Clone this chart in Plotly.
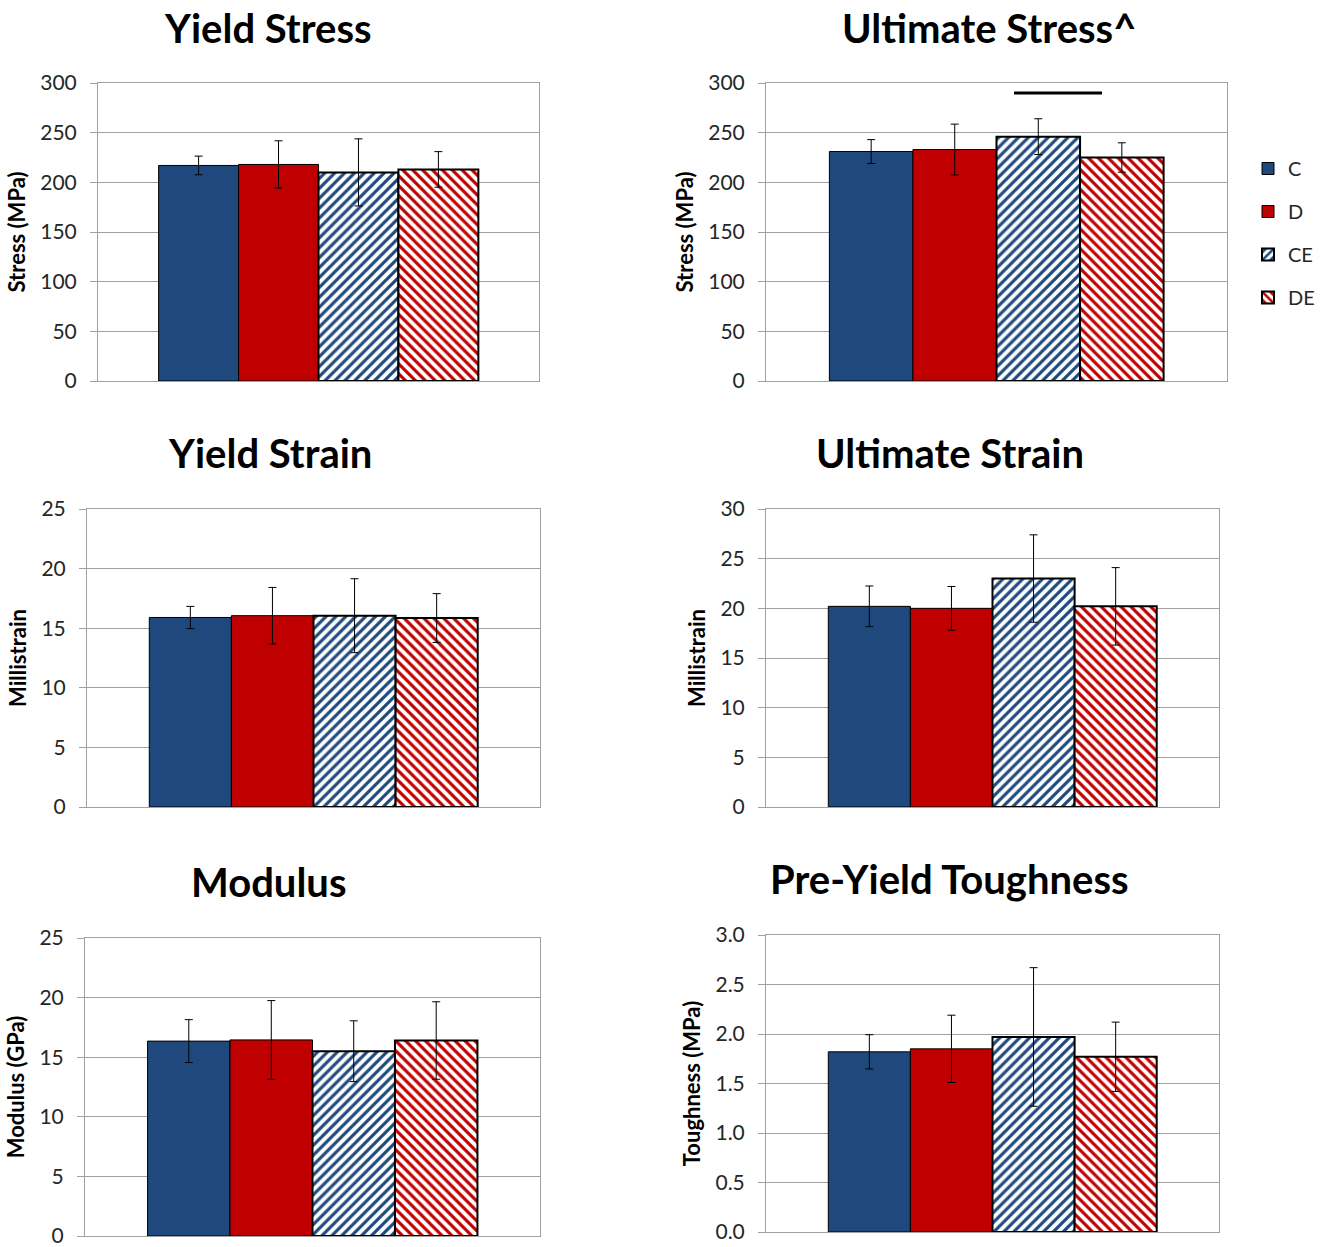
import plotly.graph_objects as go

# ---------------- data ----------------
groups = ["C", "D", "CE", "DE"]

titles = ["Yield Stress", "Ultimate Stress^", "Yield Strain",
          "Ultimate Strain", "Modulus", "Pre-Yield Toughness"]
y_titles = ["Stress (MPa)", "Stress (MPa)", "Millistrain",
            "Millistrain", "Modulus (GPa)", "Toughness (MPa)"]

yield_stress_mean = [217, 218, 210, 213]
yield_stress_sd = [9.4, 23.8, 33.8, 17.9]

ult_stress_mean = [231, 233, 246, 225]
ult_stress_sd = [12.0, 25.6, 18.0, 14.8]

yield_strain_mean = [15.9, 16.05, 16.05, 15.85]
yield_strain_sd = [0.93, 2.37, 3.1, 2.05]

ult_strain_mean = [20.2, 20.0, 23.0, 20.2]
ult_strain_sd = [2.05, 2.2, 4.4, 3.9]

modulus_mean = [16.35, 16.45, 15.5, 16.4]
modulus_sd = [1.8, 3.3, 2.55, 3.25]

tough_mean = [1.82, 1.85, 1.97, 1.77]
tough_sd = [0.173, 0.34, 0.70, 0.35]

means = [yield_stress_mean, ult_stress_mean, yield_strain_mean,
         ult_strain_mean, modulus_mean, tough_mean]
sds = [yield_stress_sd, ult_stress_sd, yield_strain_sd,
       ult_strain_sd, modulus_sd, tough_sd]

y_max = [300, 300, 25, 30, 25, 3.0]
y_dtick = [50, 50, 5, 5, 5, 0.5]
y_fmt = ["d", "d", "d", "d", "d", ".1f"]

sig_value = 290  # significance bar height on Ultimate Stress

# ---------------- style ----------------
NAVY = "#1F497D"
RED = "#C00000"
GRID = "#A0A0A0"
FONT = "Lato"

styles = {
    "C": dict(color=NAVY, pattern=None, lw=1),
    "D": dict(color=RED, pattern=None, lw=1),
    "CE": dict(color="white", pattern=dict(shape="/", fgcolor=NAVY, bgcolor="white",
                                           fgopacity=1, size=7, solidity=0.45,
                                           fillmode="replace"), lw=2),
    "DE": dict(color="white", pattern=dict(shape="\\", fgcolor=RED, bgcolor="white",
                                           fgopacity=1, size=7, solidity=0.45,
                                           fillmode="replace"), lw=2),
}

W, H = 1323, 1247
# plot-area pixel boxes: (left, right, top, bottom)
boxes = [(98, 539, 83, 381), (766, 1227, 83, 381),
         (87, 540, 509, 807), (766, 1219, 509, 807),
         (85, 540, 938, 1236), (766, 1219, 935, 1232)]
title_pos = [(268, 28), (989, 28), (270, 453), (950, 453), (269, 882), (949, 879)]

fig = go.Figure()

for i in range(6):
    ax = "" if i == 0 else str(i + 1)
    for j, g in enumerate(groups):
        st = styles[g]
        marker = dict(color=st["color"], line=dict(color="black", width=st["lw"]))
        if st["pattern"]:
            marker["pattern"] = st["pattern"]
        fig.add_trace(go.Bar(
            x=["grp"], y=[means[i][j]], name=g,
            marker=marker,
            error_y=dict(type="data", array=[sds[i][j]], color="black",
                         thickness=1, width=4, visible=True),
            xaxis="x" + ax, yaxis="y" + ax,
            showlegend=(i == 1), legendgroup=g, offsetgroup=g,
        ))

    l, r, t, b = boxes[i]
    fig.layout["xaxis" + ax] = dict(
        domain=[l / W, r / W], anchor="y" + ax, type="category", automargin=False,
        range=[-0.5, 0.5], showticklabels=False, ticks="", showgrid=False,
        showline=True, mirror=True, linecolor=GRID, linewidth=1, fixedrange=True,
    )
    fig.layout["yaxis" + ax] = dict(
        domain=[1 - b / H, 1 - t / H], anchor="x" + ax, automargin=False,
        range=[0, y_max[i]], dtick=y_dtick[i], tickformat=y_fmt[i],
        showgrid=True, gridcolor=GRID, gridwidth=1, zeroline=False,
        showline=True, mirror=True, linecolor=GRID, linewidth=1,
        ticks="outside", ticklen=7, tickcolor=GRID, ticklabelstandoff=9,
        ticklabeloverflow="allow",
        tickfont=dict(family=FONT, size=21, color="#262626"),
        title=dict(text=y_titles[i], standoff=8,
                   font=dict(family=FONT, size=22, color="black", weight="bold")),
    )
    tx, ty = title_pos[i]
    fig.add_annotation(
        text=titles[i], x=tx / W, y=1 - ty / H, xref="paper", yref="paper",
        showarrow=False, xanchor="center", yanchor="middle",
        font=dict(family=FONT, size=40, color="black", weight="bold"),
    )

# significance bar between CE and DE on Ultimate Stress
fig.add_shape(type="line", xref="x2 domain", yref="y2",
              x0=0.538, x1=0.729, y0=sig_value, y1=sig_value,
              line=dict(color="black", width=3))

fig.update_layout(
    width=W, height=H, autosize=False,
    margin=dict(l=0, r=0, t=0, b=0, pad=0, autoexpand=False),
    paper_bgcolor="white", plot_bgcolor="white",
    barmode="group", bargap=0.275, bargroupgap=0,
    font=dict(family=FONT),
    legend=dict(x=1248 / W, y=1 - 149 / H, xanchor="left", yanchor="top",
                traceorder="grouped", tracegroupgap=14,
                font=dict(family=FONT, size=20, color="#262626"),
                bgcolor="rgba(0,0,0,0)"),
)

fig.write_html(
    "out.html",
    config={"displayModeBar": False},
    post_script="document.body.style.margin='0';document.body.style.overflow='hidden';",
)
